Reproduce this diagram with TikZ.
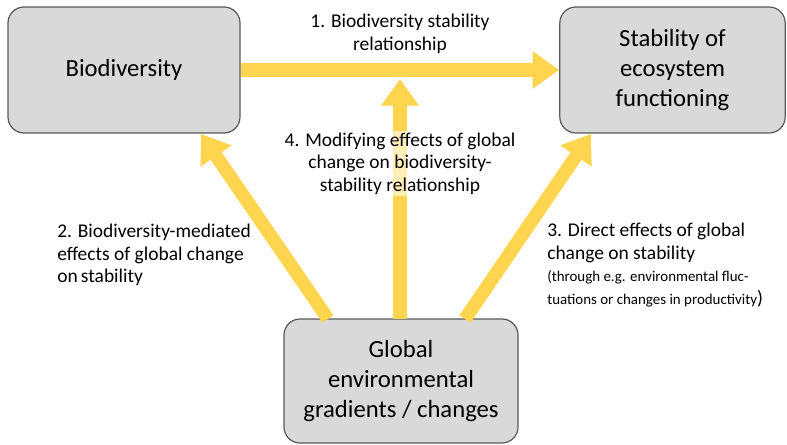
\documentclass[tikz,border=0pt]{standalone}
\usepackage{fontspec}
\setmainfont{Carlito}
\usetikzlibrary{arrows.meta}
\definecolor{boxgray}{HTML}{D9D9D9}
\definecolor{edgegray}{HTML}{595959}
\definecolor{flowgold}{HTML}{FFD54F}

\begin{document}
\begin{tikzpicture}[x=0.75pt, y=-0.75pt,
    box/.style={draw=edgegray, line width=0.9pt, fill=boxgray, rounded corners=12pt,
        align=center, inner sep=0pt, font=\fontsize{18.5}{22.5}\selectfont},
    flow/.style={draw=flowgold, line width=10pt, -{Triangle[length=20pt, width=27pt]}},
    lbl/.style={font=\fontsize{14.6}{16.8}\selectfont, inner sep=0pt}]
    \useasboundingbox (0,0) rectangle (787,445);

    % Boxes
    \node[box, minimum width=174pt, minimum height=94.5pt] (bio) at (124,70) {Biodiversity};
    \node[box, minimum width=169pt, minimum height=94.5pt] (stab) at (672.5,70) {Stability of\\ecosystem\\functioning};
    \node[box, minimum width=175.5pt, minimum height=93pt] (glob) at (401,381) {Global\\environmental\\gradients / changes};

    % Arrow ends
    \coordinate (a2s) at (328,319);
    \coordinate (a2e) at (201,134);
    \coordinate (a3s) at (465,319);
    \coordinate (a3e) at (591,134);
    \coordinate (a4s) at (400,319);
    \coordinate (a4e) at (400,79);

    % Arrows
    \draw[flow] (bio.east) -- (stab.west);
    \draw[flow] (a2s) -- (a2e);
    \draw[flow] (a3s) -- (a3e);
    \draw[flow] (a4s) -- (a4e);

    % Labels
    \node[lbl, align=center] (l1) at (400,34) {1. Biodiversity stability\\relationship};
    \node[lbl, align=center, fill=white, fill opacity=0.6, text opacity=1, inner sep=1pt] (l4) at (400,163.5)
        {4. Modifying effects of global\\change on biodiversity-\\stability relationship};
    \node[lbl, align=left, anchor=west] (l2) at (57,255)
        {2. Biodiversity-mediated\\effects of global change\\on\,stability};
    \node[lbl, align=left, anchor=west] (l3) at (547,265)
        {3. Direct effects of global\\change on stability\\
        {\fontsize{11.2}{16.8}\selectfont (through e.g. environmental fluc-}\\
        {\fontsize{11.2}{16.8}\selectfont tuations or changes in productivity})};
\end{tikzpicture}
\end{document}
